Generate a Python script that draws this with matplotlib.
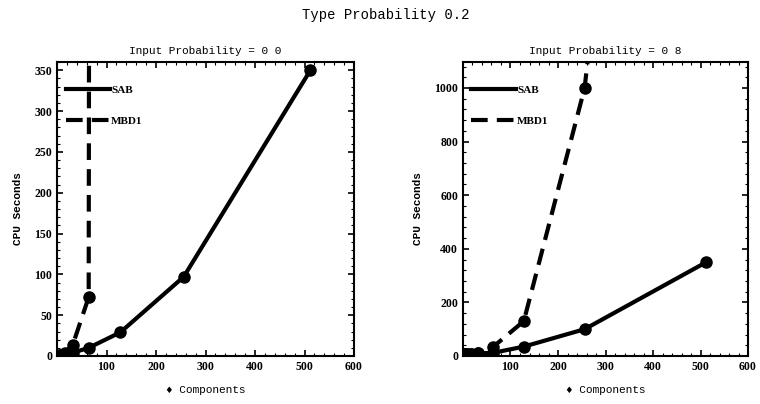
import numpy as np
import matplotlib
matplotlib.use('Agg')
import matplotlib.pyplot as plt
from matplotlib.lines import Line2D
from matplotlib.ticker import MultipleLocator, AutoMinorLocator

# component counts (powers of two)
components = [1, 2, 4, 8, 16, 32, 64, 128, 256, 512]

# Input Probability = 0.0
sab_p0 = [0.1, 0.2, 0.5, 1, 2, 4, 10, 29, 97, 350]
mbd1_p0 = [0.1, 0.3, 0.7, 1.5, 4, 14, 72, 30000, 60000, 120000]

# Input Probability = 0.8
sab_p8 = [8, 8, 8, 8, 9, 10, 12, 35, 100, 350]
mbd1_p8 = [8, 8, 8, 8, 9, 10, 35, 130, 1000, 5000]

suptitle = 'Type Probability 0.2'
titles = ['Input Probability = 0 0', 'Input Probability = 0 8']
xlabels = ['\u2666 Components', '\u2666 Components']
ylabel = 'CPU Seconds'

plt.rcParams['font.family'] = 'Liberation Serif'
plt.rcParams['font.size'] = 8
plt.rcParams['font.weight'] = 'bold'
mono = 'Liberation Mono'

fig = plt.figure(figsize=(7.6, 4.04), dpi=100)
ax1 = fig.add_axes([57/760, 48/404, 297/760, 294/404])
ax2 = fig.add_axes([463/760, 48/404, 285/760, 294/404])

panels = [(ax1, sab_p0, mbd1_p0, 360, 50),
          (ax2, sab_p8, mbd1_p8, 1097, 200)]

lw = 3.0
dash = (0, (4.0, 2.2))

for i, (ax, sab, mbd, ytop, ystep) in enumerate(panels):
    ax.plot(components, sab, color='black', linestyle='-', linewidth=lw,
            marker='o', markersize=8)
    ax.plot(components, mbd, color='black', linestyle=dash, linewidth=lw,
            marker='o', markersize=8, dash_capstyle='butt')
    ax.set_xlim(0, 600)
    ax.set_ylim(0, ytop)
    ax.xaxis.set_major_locator(MultipleLocator(100))
    ax.yaxis.set_major_locator(MultipleLocator(ystep))
    ax.xaxis.set_minor_locator(AutoMinorLocator(5))
    ax.yaxis.set_minor_locator(AutoMinorLocator(5))
    ax.tick_params(which='both', direction='in', top=True, right=True, labelsize=8.5)
    ax.tick_params(which='major', length=4, width=1.2)
    ax.tick_params(which='minor', length=2, width=0.8)
    ax.set_xticks([100, 200, 300, 400, 500, 600])
    for s in ax.spines.values():
        s.set_linewidth(1.5)
    ax.set_title(titles[i], fontsize=8, family=mono, fontweight='normal', pad=6)
    ax.set_xlabel(xlabels[i], fontsize=8, family=mono, fontweight='normal', labelpad=9)
    ax.set_ylabel(ylabel, fontsize=8, family=mono, fontweight='bold', labelpad=8)

    handles = [Line2D([], [], color='black', linewidth=lw, linestyle='-'),
               Line2D([], [], color='black', linewidth=lw, linestyle=dash)]
    ax.legend(handles, ['SAB', 'MBD1'], loc='upper left',
              bbox_to_anchor=(0.01, 0.94), frameon=False, handlelength=4,
              handletextpad=0.1, labelspacing=1.9, borderpad=0, fontsize=8)

fig.text(0.507, 0.962, suptitle, ha='center', va='center', family=mono,
         fontweight='normal', fontsize=10)

fig.savefig('out.png', dpi=100)
